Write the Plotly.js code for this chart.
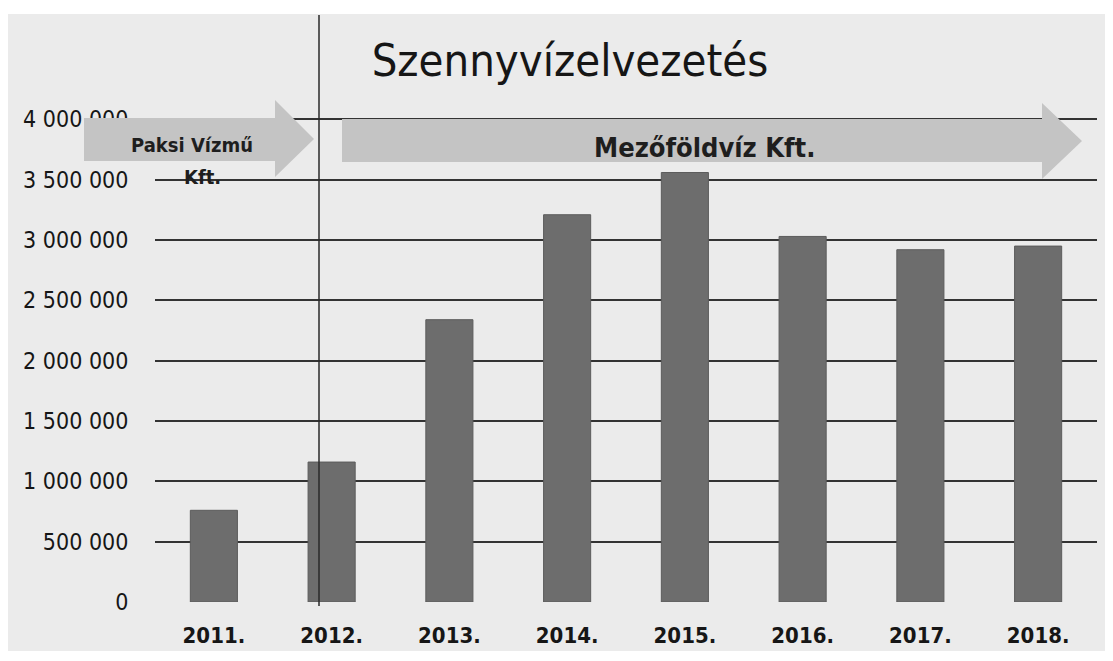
<!DOCTYPE html>
<html>
<head>
<meta charset="utf-8">
<script src="https://cdn.plot.ly/plotly-3.0.1.min.js"></script>
<style>
  html, body { margin: 0; padding: 0; background: #ffffff; }
  #chart { width: 1113px; height: 661px; }
</style>
</head>
<body>
<div id="chart"></div>
<script>
// ---- data ----
const years = ["2011.", "2012.", "2013.", "2014.", "2015.", "2016.", "2017.", "2018."];
const values = [760000, 1160000, 2340000, 3210000, 3560000, 3030000, 2920000, 2950000];
const yTicks = [0, 500000, 1000000, 1500000, 2000000, 2500000, 3000000, 3500000, 4000000];
const titleText = "Szennyvízelvezetés";
const paksiLines = ["Paksi Vízmű", "Kft."];
const mezoLabel = "Mezőföldvíz Kft.";

// ---- layout helpers (pixel -> paper) ----
const W = 1113, H = 661;
const L = 155, R = 1097, T = 117, B = 602;
const px = x => (x - L) / (R - L);
const py = y => (B - y) / (B - T);

function arrowPath(x0, bodyTop, bodyBot, headX, headTop, headBot, tipX, tipY) {
  const pts = [
    [x0, bodyTop], [headX, bodyTop], [headX, headTop], [tipX, tipY],
    [headX, headBot], [headX, bodyBot], [x0, bodyBot]
  ];
  return "M " + pts.map(p => px(p[0]).toFixed(5) + "," + py(p[1]).toFixed(5)).join(" L ") + " Z";
}

const font = "DejaVu Sans Condensed, DejaVu Sans, sans-serif";

const trace = {
  type: "bar",
  x: years,
  y: values,
  marker: { color: "#6d6d6d", line: { color: "#5c5c5c", width: 1 } },
  hoverinfo: "skip"
};

const layout = {
  width: W, height: H,
  margin: { l: L, r: W - R, t: T, b: H - B, pad: 0 },
  paper_bgcolor: "#ffffff",
  plot_bgcolor: "rgba(0,0,0,0)",
  separators: ", ",
  showlegend: false,
  bargap: 0.6,
  title: {
    text: titleText,
    font: { family: font, size: 45, color: "#161616" },
    x: px(570), xref: "paper", xanchor: "center",
    y: 1 - 60 / H, yref: "container", yanchor: "middle"
  },
  xaxis: {
    type: "category",
    showgrid: false, zeroline: false, showline: false,
    ticks: "outside", ticklen: 0, ticklabelstandoff: 14,
    tickfont: { family: font, size: 22, color: "#161616", weight: "bold" }
  },
  yaxis: {
    range: [0, 4020000],
    tickvals: yTicks,
    tickformat: ",.0f",
    showgrid: true, gridcolor: "#333333", gridwidth: 2,
    zeroline: false, showline: false,
    ticks: "outside", ticklen: 0, ticklabelstandoff: 21,
    tickfont: { family: font, size: 23, color: "#161616" }
  },
  shapes: [
    // gray scanned frame background
    { type: "rect", xref: "paper", yref: "paper", layer: "below",
      x0: px(8), x1: px(1105), y0: py(14), y1: py(651),
      fillcolor: "#ebebeb", line: { width: 0 } },
    // Paksi Vízmű arrow
    { type: "path", xref: "paper", yref: "paper", layer: "above",
      path: arrowPath(84, 118, 161, 275, 100, 177, 314, 139),
      fillcolor: "#c4c4c4", line: { width: 0 } },
    // Mezőföldvíz arrow
    { type: "path", xref: "paper", yref: "paper", layer: "above",
      path: arrowPath(342, 119, 162, 1042, 103, 179, 1082, 141),
      fillcolor: "#c4c4c4", line: { width: 0 } },
    // vertical separator line
    { type: "line", xref: "paper", yref: "paper", layer: "above",
      x0: px(319), x1: px(319), y0: py(15), y1: py(606),
      line: { color: "#2a2a2a", width: 1.5 } }
  ],
  annotations: [
    { xref: "paper", yref: "paper", x: px(192), y: py(145), xanchor: "center", yanchor: "middle",
      text: paksiLines[0], showarrow: false,
      font: { family: font, size: 20, color: "#1e1e1e", weight: "bold" } },
    { xref: "paper", yref: "paper", x: px(202), y: py(177), xanchor: "center", yanchor: "middle",
      text: paksiLines[1], showarrow: false,
      font: { family: font, size: 20, color: "#1e1e1e", weight: "bold" } },
    { xref: "paper", yref: "paper", x: px(704), y: py(147), xanchor: "center", yanchor: "middle",
      text: mezoLabel, showarrow: false,
      font: { family: font, size: 27, color: "#1e1e1e", weight: "bold" } }
  ]
};

Plotly.newPlot("chart", [trace], layout, { staticPlot: true, displayModeBar: false });
</script>
</body>
</html>
